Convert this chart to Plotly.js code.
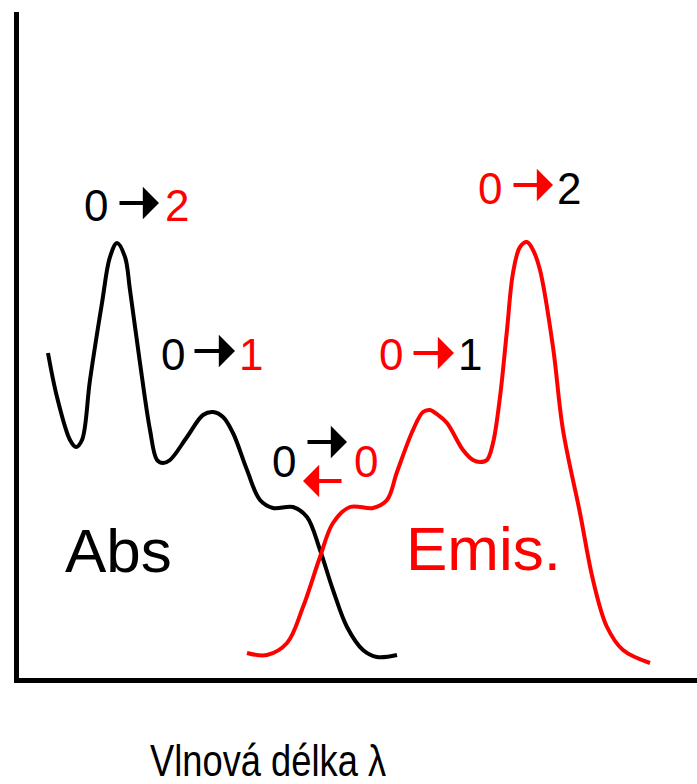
<!DOCTYPE html>
<html>
<head>
<meta charset="utf-8">
<script src="https://cdn.plot.ly/plotly-3.0.1.min.js"></script>
<style>html,body{margin:0;padding:0;background:#fff;}#chart{width:697px;height:784px;}</style>
</head>
<body>
<div id="chart"></div>
<script>
// Absorption curve (black)
const absX = [48, 57, 70, 76, 82, 90, 102, 110, 117, 125, 130, 140, 150, 157, 163, 170, 187, 203, 213, 223, 233, 247, 260, 273, 293, 307, 320, 333, 347, 363, 377, 397];
const absY = [325, 281, 238, 231, 238, 298, 375, 421, 435, 421, 388, 315, 248, 218, 215, 218, 241, 263, 266, 261, 245, 208, 178, 170, 171, 161, 128, 88, 51, 28, 21, 23];
// Emission curve (red)
const emX = [247, 267, 287, 303, 320, 333, 350, 373, 387, 397, 413, 423, 430, 438, 447, 463, 473, 480, 487, 493, 500, 507, 513, 520, 527, 533, 540, 553, 563, 580, 593, 607, 623, 650];
const emY = [25, 23, 35, 71, 121, 155, 171, 170, 178, 206, 248, 266, 268, 263, 255, 228, 218, 216, 218, 235, 281, 348, 405, 431, 436, 428, 408, 331, 248, 165, 98, 51, 28, 15];

const labelAbs = "Abs";
const labelEm = "Emis.";
const xTitle = "Vlnová délka λ";

const BLACK = "#000000", RED = "#ff0000";
const FONT = "Liberation Sans, Arial, sans-serif";

// transition labels: [text, x, y, color]
const digits = [
  ["0", 96, 473, BLACK], ["2", 177, 473, RED],
  ["0", 173, 324, BLACK], ["1", 251, 324, RED],
  ["0", 284, 217, BLACK], ["0", 366, 217, RED],
  ["0", 391, 324, RED], ["1", 470, 324, BLACK],
  ["0", 490, 490, RED], ["2", 569, 490, BLACK]
];
// arrows: [tailX, tailY, headX, headY, color]
const arrows = [
  [118, 475, 159, 475, BLACK],
  [193, 327, 235, 327, BLACK],
  [306, 236, 347, 236, BLACK],
  [343, 197, 303, 197, RED],
  [412, 325, 454, 325, RED],
  [512, 493, 553, 493, RED]
];

const annotations = [];
digits.forEach(d => annotations.push({
  text: d[0], x: d[1], y: d[2], xref: "x", yref: "y", showarrow: false,
  xanchor: "center", yanchor: "middle", font: {family: FONT, size: 44, color: d[3]}
}));
arrows.forEach(a => annotations.push({
  text: "", x: a[2], y: a[3], ax: a[0], ay: a[1], xref: "x", yref: "y",
  axref: "x", ayref: "y", showarrow: true, arrowhead: 1, arrowsize: 1.35,
  arrowwidth: 4, arrowcolor: a[4], standoff: 0, startstandoff: 0
}));
annotations.push({text: labelAbs, x: 118, y: 128, xref: "x", yref: "y", showarrow: false,
  xanchor: "center", yanchor: "middle", font: {family: FONT, size: 62, color: BLACK}});
annotations.push({text: labelEm, x: 483, y: 130, xref: "x", yref: "y", showarrow: false,
  xanchor: "center", yanchor: "middle", font: {family: FONT, size: 62, color: RED}});
annotations.push({text: xTitle, x: 268, y: -0.124, xref: "x", yref: "paper", showarrow: false,
  xanchor: "center", yanchor: "middle",
  font: {family: FONT, size: 44, color: BLACK}});

const traces = [
  {x: absX, y: absY, type: "scatter", mode: "lines", name: labelAbs,
   line: {color: BLACK, width: 4, shape: "spline", smoothing: 1}, hoverinfo: "skip"},
  {x: emX, y: emY, type: "scatter", mode: "lines", name: labelEm,
   line: {color: RED, width: 4, shape: "spline", smoothing: 1}, hoverinfo: "skip"}
];

const layout = {
  width: 697, height: 784,
  margin: {l: 19, r: 0, t: 12, b: 106, pad: 0},
  paper_bgcolor: "#ffffff", plot_bgcolor: "#ffffff",
  showlegend: false,
  xaxis: {range: [19, 697], showgrid: false, zeroline: false, showticklabels: false,
          ticks: "", showline: true, linecolor: BLACK, linewidth: 5, fixedrange: true},
  yaxis: {range: [0, 666], showgrid: false, zeroline: false, showticklabels: false,
          ticks: "", showline: true, linecolor: BLACK, linewidth: 5, fixedrange: true},
  annotations: annotations
};

Plotly.newPlot("chart", traces, layout, {staticPlot: true, displayModeBar: false}).then(gd => {
  // condense the axis-title text (reference uses a narrow face)
  gd.querySelectorAll("text.annotation-text").forEach(t => {
    if (t.textContent === xTitle) {
      t.setAttribute("textLength", "236");
      t.setAttribute("lengthAdjust", "spacingAndGlyphs");
    }
  });
});
</script>
</body>
</html>
